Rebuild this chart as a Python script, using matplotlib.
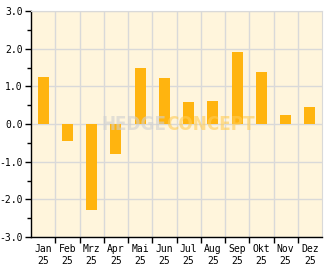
import matplotlib as mpl
mpl.use('Agg')
import matplotlib.pyplot as plt
import numpy as np

months = ['Jan', 'Feb', 'Mrz', 'Apr', 'Mai', 'Jun', 'Jul', 'Aug', 'Sep', 'Okt', 'Nov', 'Dez']
years = ['25'] * 12
values = [1.24, -0.46, -2.29, -0.79, 1.49, 1.23, 0.59, 0.62, 1.92, 1.39, 0.25, 0.46]

fig = plt.figure(figsize=(3.32, 2.69), dpi=100)
ax = fig.add_axes([31 / 332, 1 - 237 / 269, 291 / 332, 226 / 269])
ax.set_facecolor('#fff5dc')

x = np.arange(len(values)) + 0.5
ax.bar(x, values, width=0.45, color='#ffb40f', zorder=2)

ax.set_xlim(0, 12)
ax.set_ylim(-3, 3)

# grid
ax.set_xticks(np.arange(1, 12))
ax.set_xticks(x, minor=True)
ax.set_xticklabels([], minor=False)
ax.set_xticklabels([m + '\n' + y for m, y in zip(months, years)], minor=True)
ax.tick_params(axis='x', which='major', length=4, width=1, direction='out', color='black')
ax.tick_params(axis='x', which='minor', length=0, pad=5)
ax.set_yticks(np.arange(-3, 4, 1))
ax.set_yticks(np.arange(-3, 3.01, 0.5), minor=True)
ax.set_yticklabels(['%.1f' % v for v in np.arange(-3, 4, 1)])
ax.tick_params(axis='y', which='major', length=4, width=1, direction='out', pad=2)
ax.tick_params(axis='y', which='minor', length=3, width=1, direction='out')
for lab in ax.get_xticklabels(minor=True) + ax.get_yticklabels():
    lab.set_fontfamily('DejaVu Sans Mono')
    lab.set_fontsize(7)
    lab.set_linespacing(1.3)

ax.grid(True, which='major', color='#d9d9d9', linewidth=1, zorder=0)
ax.set_axisbelow(True)

for s in ['top', 'right']:
    ax.spines[s].set_color('#d9d9d9')
for s in ['left', 'bottom']:
    ax.spines[s].set_color('black')
    ax.spines[s].set_linewidth(1)

# watermark
wm = dict(transform=ax.transAxes, va='center', fontsize=13.5, fontweight='bold',
          fontstretch='condensed', family='DejaVu Sans', alpha=0.6, zorder=3)
ax.text(0.464, 0.5, 'HEDGE', ha='right', color='#d0d0d0', **wm)
ax.text(0.464, 0.5, 'CONCEPT', ha='left', color='#ffcc55', **wm)

plt.savefig('out.png', dpi=100)
